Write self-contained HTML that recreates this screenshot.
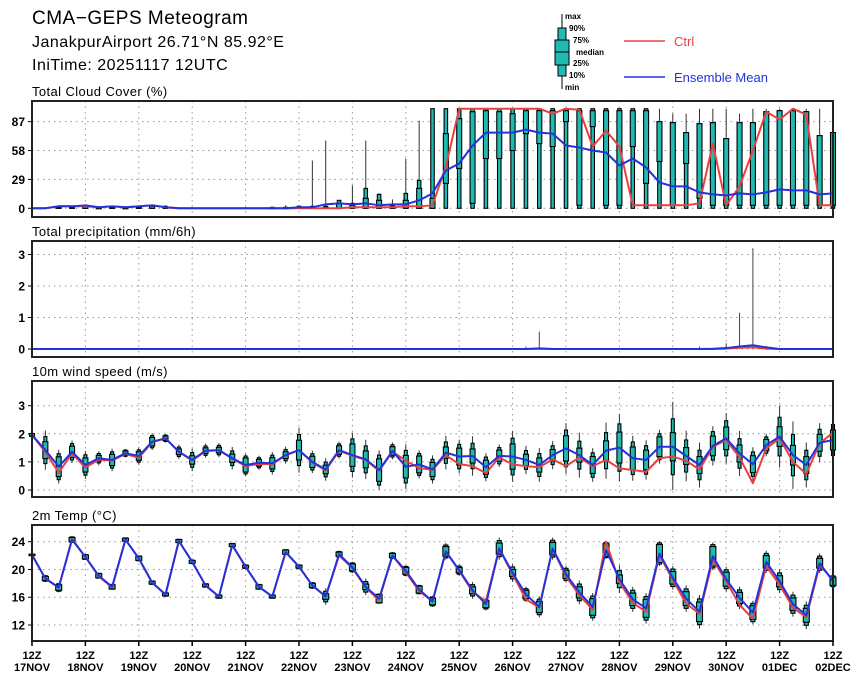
<!DOCTYPE html>
<html><head><meta charset="utf-8"><style>
html,body{margin:0;padding:0;background:#fff}
svg{display:block;font-family:"Liberation Sans",sans-serif}
</style></head><body>
<svg id="chart" width="860" height="679" viewBox="0 0 860 679" xmlns="http://www.w3.org/2000/svg">
<text x="32" y="24" font-size="19" letter-spacing="0.5">CMA−GEPS Meteogram</text>
<text x="32" y="47" font-size="16" letter-spacing="0.5">JanakpurAirport 26.71°N 85.92°E</text>
<text x="32" y="70" font-size="16" letter-spacing="0.5">IniTime: 20251117 12UTC</text>
<g>
<line x1="562" y1="14" x2="562" y2="89" stroke="#000" stroke-width="1"/>
<rect x="558" y="28" width="8" height="48" fill="#1fbab2" stroke="#000" stroke-width="1"/>
<rect x="555" y="40" width="14" height="25" fill="#1fbab2" stroke="#000" stroke-width="1"/>
<line x1="555" y1="52" x2="569" y2="52" stroke="#000"/>
<g font-size="8" font-weight="bold">
<text x="565" y="19">max</text>
<text x="569" y="31">90%</text>
<text x="573" y="43">75%</text>
<text x="576" y="55">median</text>
<text x="573" y="66">25%</text>
<text x="569" y="78">10%</text>
<text x="565" y="90">min</text>
</g>
<line x1="624" y1="41" x2="665" y2="41" stroke="#e84040" stroke-width="1.5"/>
<text x="674" y="46" font-size="13" fill="#e84040">Ctrl</text>
<line x1="624" y1="77" x2="665" y2="77" stroke="#2233dd" stroke-width="1.5"/>
<text x="674" y="82" font-size="13" fill="#2233dd">Ensemble Mean</text>
</g>
</svg>
<script>
const timeSteps = 61;
const dayLabels = ["17NOV","18NOV","19NOV","20NOV","21NOV","22NOV","23NOV","24NOV","25NOV","26NOV","27NOV","28NOV","29NOV","30NOV","01DEC","02DEC"];

const cloudMean = [0,0,2,2,3,1,2,1,2,3,1,0,0,0,0,0,0,0,0,0,1,1,4,5,4,5,3,4,4,8,
15,38,45,63,76,76,76,79,76,75,63,61,58,56,43,50,41,26,22,22,16,14,13,15,14,16,19,18,18,14,15];
const cloudCtrl = [0,0,2,2,2,1,2,1,2,3,1,0,0,0,0,0,0,0,0,0,0,0,0,0,1,1,1,1,2,2,
3,42,100,100,100,100,100,100,100,95,100,99,62,78,62,3,3,3,3,3,5,65,3,22,58,97,89,100,94,3,3];
const cloudQ25 = [0,0,0,0,0,0,0,0,0,0,0,0,0,0,0,0,0,0,0,0,0,0,0,0,0,0,0,0,0,0,
0,25,40,5,50,50,58,75,65,62,87,3,82,3,3,62,25,47,3,45,10,3,3,3,3,3,3,3,3,3,3];
const cloudQ75 = [0,0,1,1,2,0,1,0,1,2,1,0,0,0,0,0,0,0,0,0,1,1,1,5,3,10,8,2,8,20,
10,75,90,97,98,97,95,98,98,98,98,98,98,98,98,98,98,87,86,76,85,86,70,86,86,97,98,98,97,73,76];
const cloudP90 = [0,0,2,2,3,1,2,1,2,3,2,0,0,0,0,0,0,0,1,1,2,2,2,8,5,20,14,3,15,28,
100,100,100,100,100,100,100,100,100,100,100,100,100,100,100,100,100,87,86,76,85,86,70,86,86,97,98,98,97,73,76];
const cloudMax = [0,0,2,2,3,1,2,1,2,3,3,0,0,0,0,0,0,0,1,3,3,48,68,8,23,68,15,9,50,88,
100,100,100,100,100,100,100,100,100,100,100,100,100,100,100,100,100,100,95,95,100,100,100,95,100,100,100,100,100,100,96];
const cloudTicks = [0,29,58,87];

const precipMean = [0,0,0,0,0,0,0,0,0,0,0,0,0,0,0,0,0,0,0,0,0,0,0,0,0,0,0,0,0,0,
0,0,0,0,0,0,0,0,0.02,0,0,0,0,0,0,0,0,0,0,0,0,0.01,0.03,0.08,0.12,0.05,0,0,0,0,0];
const precipCtrl = [0,0,0,0,0,0,0,0,0,0,0,0,0,0,0,0,0,0,0,0,0,0,0,0,0,0,0,0,0,0,
0,0,0,0,0,0,0,0,0.01,0,0,0,0,0,0,0,0,0,0,0,0,0,0.01,0.04,0.05,0.01,0,0,0,0,0];
const precipMax = [0,0,0,0,0,0,0,0,0,0,0,0,0,0,0,0,0,0,0,0,0,0,0,0,0,0,0,0,0,0,
0,0,0,0,0,0,0,0.08,0.55,0,0,0,0,0,0,0,0,0,0,0,0.08,0.02,0.18,1.15,3.2,0.1,0,0,0,0,0];
const precipTicks = [0,1,2,3];

const windMean = [1.96,1.42,0.83,1.36,0.89,1.13,1.07,1.31,1.21,1.72,1.84,1.36,1.07,1.40,1.42,1.13,0.89,0.97,0.95,1.24,1.42,1.0,0.73,1.42,1.24,1.09,0.71,1.39,0.83,0.91,
0.73,1.33,1.19,1.21,0.81,1.22,1.19,1.07,0.89,1.24,1.48,1.24,0.89,1.40,1.51,1.13,1.07,1.54,1.54,1.21,0.89,1.57,1.84,1.30,0.92,1.6,1.9,1.24,0.89,1.68,1.78];
const windCtrl = [1.96,1.35,0.62,1.30,0.80,1.08,1.05,1.28,1.15,1.70,1.84,1.36,1.05,1.38,1.42,1.12,0.85,0.93,0.92,1.24,1.42,0.98,0.70,1.40,1.22,1.07,0.68,1.37,1.04,0.78,
0.72,1.24,0.92,0.85,0.60,1.16,0.91,0.85,0.81,1.09,0.85,1.16,0.85,1.07,0.77,0.71,0.65,1.13,1.19,1.04,0.73,1.54,1.78,1.16,0.24,1.48,1.84,1.00,0.57,1.66,2.04];
const windBoxHalf = [0.05,0.3,0.35,0.2,0.25,0.1,0.2,0.08,0.15,0.15,0.08,0.1,0.15,0.1,0.1,0.15,0.25,0.12,0.2,0.12,0.35,0.2,0.15,0.15,0.4,0.3,0.4,0.15,0.4,0.3,
0.25,0.2,0.3,0.25,0.25,0.2,0.45,0.2,0.25,0.2,0.45,0.25,0.3,0.35,0.55,0.4,0.35,0.35,0.5,0.3,0.3,0.35,0.4,0.3,0.3,0.2,0.35,0.35,0.3,0.3,0.35];
const windWhisk = [0.05,0.7,0.6,0.4,0.5,0.25,0.4,0.15,0.3,0.3,0.15,0.25,0.4,0.25,0.25,0.4,0.4,0.25,0.4,0.3,0.8,0.4,0.4,0.3,0.8,0.7,0.7,0.3,0.8,0.5,
0.5,0.6,0.6,0.7,0.5,0.4,0.9,0.5,0.6,0.5,0.9,0.8,0.6,1.0,1.2,0.8,0.7,0.6,1.6,0.9,0.8,0.7,0.9,0.8,0.6,0.4,1.1,1.2,0.8,0.7,0.8];
const windTicks = [0,1,2,3];

const tempMean = [22.1,18.7,17.4,24.3,21.8,19.1,17.5,24.3,21.6,18.1,16.4,24.1,21.1,17.7,16.1,23.5,20.4,17.5,16.1,22.5,20.4,17.7,16.1,22.2,20.3,17.5,15.8,22.0,19.8,17.1,
15.4,22.6,19.9,17.0,15.0,23.0,19.5,16.4,14.6,23.0,19.3,16.7,14.6,22.8,18.6,15.7,14.4,22.3,18.8,15.8,13.9,21.9,18.6,15.9,13.8,21.1,18.3,15.0,13.4,20.9,18.3];
const tempCtrl = [22.1,18.7,17.4,24.4,21.8,19.0,17.4,24.3,21.6,18.1,16.4,24.1,21.1,17.7,16.1,23.5,20.4,17.5,16.1,22.5,20.4,17.7,16.1,22.0,20.2,17.4,15.6,22.0,19.6,16.9,
15.4,22.6,19.8,16.8,15.4,23.0,19.3,15.7,14.5,23.0,19.0,16.3,14.2,24.0,18.2,15.2,13.9,22.1,18.5,15.1,13.6,21.4,18.3,14.9,12.9,20.5,17.8,14.5,13.1,20.6,18.5];
const tempBoxHalf = [0.1,0.3,0.4,0.3,0.3,0.3,0.3,0.2,0.3,0.2,0.2,0.2,0.2,0.2,0.2,0.2,0.2,0.3,0.2,0.3,0.2,0.3,0.4,0.3,0.5,0.4,0.6,0.3,0.5,0.5,
0.5,0.7,0.4,0.5,0.5,0.8,0.5,0.6,0.8,0.9,0.6,0.8,1.2,0.9,0.6,0.9,1.3,1.3,0.9,1.0,1.4,1.4,1.0,0.8,1.0,0.9,0.8,0.9,1.0,0.7,0.6];
const tempWhisk = [0.1,0.5,0.7,0.5,0.4,0.4,0.4,0.3,0.4,0.3,0.3,0.3,0.3,0.3,0.3,0.3,0.3,0.4,0.3,0.4,0.3,0.5,1.2,0.5,0.8,1.2,0.7,0.5,0.8,0.7,
0.8,1.2,0.8,1.2,0.9,1.6,1.3,1.1,1.5,1.6,1.2,1.7,2.0,1.3,2.0,1.8,2.2,1.8,1.7,1.9,2.4,2.0,1.8,1.6,1.7,1.6,1.7,1.8,2.0,1.4,1.0];
const tempTicks = [12,16,20,24];

const NS = "http://www.w3.org/2000/svg";
const svg = document.getElementById("chart");
const X0 = 32, X1 = 833;
function xT(t){ return X0 + t*(X1-X0)/(timeSteps-1); }
function lin(v0,p0,v1,p1){ return v => p0 + (v-v0)*(p1-p0)/(v1-v0); }
const TEAL = "#1fbab2", RED = "#e84040", BLUE = "#2233dd";

function mk(tag, attrs, parent){
  const e = document.createElementNS(NS, tag);
  for (const k in attrs) e.setAttribute(k, attrs[k]);
  (parent||svg).appendChild(e);
  return e;
}

const panels = [
  {key:"cloud", title:"Total Cloud Cover (%)", top:101, bot:217, y:lin(0,208.3,100,108.7), ticks:cloudTicks},
  {key:"precip", title:"Total precipitation (mm/6h)", top:241, bot:357, y:lin(0,349,3,254.5), ticks:precipTicks},
  {key:"wind", title:"10m wind speed (m/s)", top:381, bot:497, y:lin(0,490,3,405.7), ticks:windTicks},
  {key:"temp", title:"2m Temp (°C)", top:525, bot:641, y:lin(24,541.7,12,625), ticks:tempTicks}
];

function drawFrame(p){
  const g = mk("g", {});
  
  
  const tt = mk("text", {x:32, y:p.top-5, "font-size":13, "letter-spacing":"0.4"}, g);
  tt.textContent = p.title;
  
  
  for (let d = 1; d < dayLabels.length-1; d++){
    const xx = xT(d*4);
    const gl = mk("line", {x1:xx, x2:xx, y1:p.top, y2:p.bot, stroke:"#999", "stroke-width":1, "stroke-dasharray":"1.5,4"}, g);
    
    
  }
  p.ticks.forEach(v => {
    const yy = p.y(v);
    const hl = mk("line", {x1:X0, x2:X1, y1:yy, y2:yy, stroke:"#999", "stroke-width":1, "stroke-dasharray":"1.5,4"}, g);
    
    
    const tk = mk("line", {x1:28, x2:32, y1:yy, y2:yy, stroke:"#000", "stroke-width":1}, g);
    
    
    const lb = mk("text", {x:25, y:yy+4.5, "font-size":12, "font-weight":"bold", "text-anchor":"end"}, g);
    lb.textContent = v;
    
    
  });
  return g;
}

function drawBox(g, name, t, y, q25, q75, p10, p90, mn, mx, wW, nW){
  const xx = xT(t);
  const wl = mk("line", {x1:xx, x2:xx, y1:y(mx), y2:y(mn), stroke:"#333", "stroke-width":1}, g);
  
  
  const nb = mk("rect", {x:xx-nW/2, y:y(p90), width:nW, height:Math.max(0.5, y(p10)-y(p90)), fill:TEAL, stroke:"#000", "stroke-width":1.1}, g);
  
  
  const wb = mk("rect", {x:xx-wW/2, y:y(q75), width:wW, height:Math.max(0.5, y(q25)-y(q75)), fill:TEAL, stroke:"#000", "stroke-width":1.1}, g);
  
  
}

function drawLine(g, name, arr, y, color){
  let d = "";
  arr.forEach((v,i) => { d += (i ? "L" : "M") + xT(i).toFixed(2) + "," + y(v).toFixed(2); });
  const pl = mk("path", {d:d, fill:"none", stroke:color, "stroke-width":2, "stroke-linejoin":"round"}, g);
  
  
}

function drawBorder(g, p){
  const r = mk("rect", {x:X0, y:p.top, width:X1-X0, height:p.bot-p.top, fill:"none", stroke:"#222", "stroke-width":2}, g);
  
  
}

// Cloud
(function(){
  const p = panels[0], g = drawFrame(p);
  for (let t = 0; t < timeSteps; t++){
    if (cloudMax[t] <= 0) continue;
    drawBox(g, 'cloud-box', t, p.y, cloudQ25[t], cloudQ75[t], 0, cloudP90[t], 0, cloudMax[t], 5, 3.5);
  }
  drawLine(g, 'cloud-ctrl-line', cloudCtrl, p.y, RED);
  drawLine(g, 'cloud-mean-line', cloudMean, p.y, BLUE);
  drawBorder(g, p);
})();

// Precip
(function(){
  const p = panels[1], g = drawFrame(p);
  for (let t = 0; t < timeSteps; t++){
    if (precipMax[t] <= 0) continue;
    const xx = xT(t);
    const wl = mk("line", {x1:xx, x2:xx, y1:p.y(precipMax[t]), y2:p.y(0), stroke:"#444", "stroke-width":1}, g);
    
    
  }
  drawLine(g, 'precip-ctrl-line', precipCtrl, p.y, RED);
  drawLine(g, 'precip-mean-line', precipMean, p.y, BLUE);
  drawBorder(g, p);
})();

// Wind
(function(){
  const p = panels[2], g = drawFrame(p);
  for (let t = 0; t < timeSteps; t++){
    const m = windMean[t], b = windBoxHalf[t], w = windWhisk[t];
    const inner = b + (w-b)*0.45;
    drawBox(g, 'wind-box', t, p.y, Math.max(0,m-b), m+b, Math.max(0,m-inner), m+inner, Math.max(0,m-w), m+w, 5, 3);
  }
  drawLine(g, 'wind-ctrl-line', windCtrl, p.y, RED);
  drawLine(g, 'wind-mean-line', windMean, p.y, BLUE);
  drawBorder(g, p);
})();

// Temp
(function(){
  const p = panels[3], g = drawFrame(p);
  for (let t = 0; t < timeSteps; t++){
    const m = tempMean[t], b = tempBoxHalf[t], w = tempWhisk[t];
    const inner = b + (w-b)*0.45;
    drawBox(g, 'temp-box', t, p.y, m-b, m+b, m-inner, m+inner, m-w, m+w, 6, 4);
  }
  drawLine(g, 'temp-ctrl-line', tempCtrl, p.y, RED);
  drawLine(g, 'temp-mean-line', tempMean, p.y, BLUE);
  drawBorder(g, p);
  dayLabels.forEach((lab, d) => {
    const xx = xT(d*4);
    const tk = mk("line", {x1:xx, x2:xx, y1:641, y2:646, stroke:"#000", "stroke-width":1.5});
    
    
    const t1 = mk("text", {x:xx, y:659, "font-size":11, "font-weight":"bold", "text-anchor":"middle"});
    t1.textContent = "12Z";
    
    
    const t2 = mk("text", {x:xx, y:671, "font-size":11, "font-weight":"bold", "text-anchor":"middle"});
    t2.textContent = lab;
    
    
  });
})();
</script>
</body></html>
